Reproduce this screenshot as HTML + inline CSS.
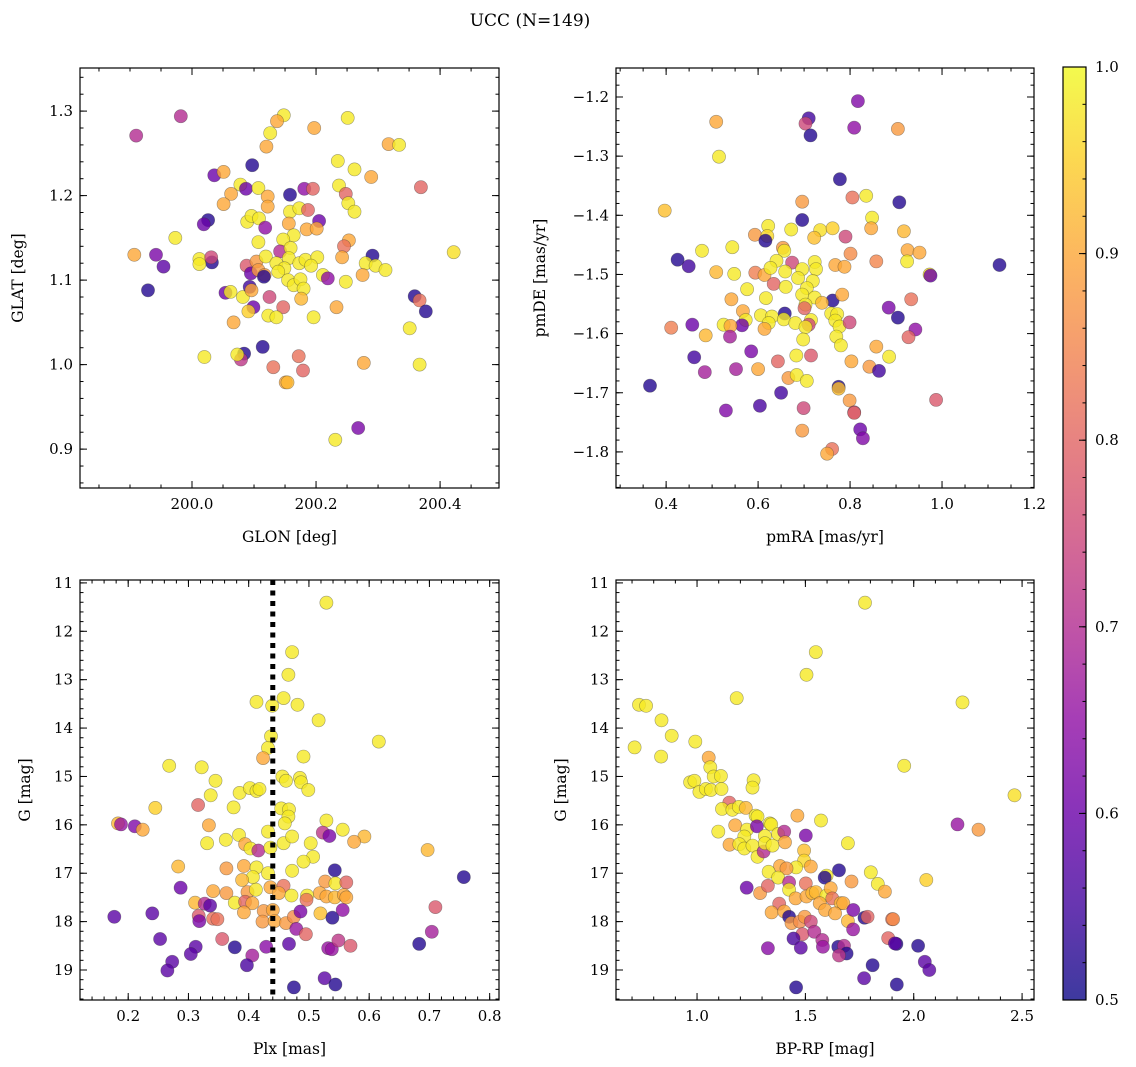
<!DOCTYPE html>
<html><head><meta charset="utf-8">
<style>
html,body{margin:0;padding:0;background:#fff;}
svg{display:block;font-family:"DejaVu Serif","Liberation Serif",serif;}
</style></head>
<body>
<svg id="fig" width="1136" height="1067" viewBox="0 0 1136 1067" xmlns="http://www.w3.org/2000/svg">
<text x="530" y="26" font-size="17" text-anchor="middle">UCC (N=149)</text>
</svg>
<script>
// ---------- Panel 1: GLON vs GLAT ----------
const p1Glon=[199.910,199.982,200.148,200.137,200.126,200.120,200.197,200.251,200.317,200.334,200.235,200.262,200.289,200.369,200.097,200.036,200.051,200.078,200.087,200.107,200.063,200.051,200.122,200.122,200.158,200.181,200.195,200.237,200.248,200.252,200.262,200.026,200.019,200.089,200.096,200.108,200.118,200.158,200.173,200.187,200.205,200.156,200.185,200.201,199.973,200.107,200.164,200.147,200.253,200.245,199.907,199.942,199.954,199.929,200.012,200.032,200.031,200.012,200.088,200.104,200.119,200.142,200.159,200.136,200.156,200.173,200.183,200.202,200.192,200.149,200.139,200.095,200.107,200.117,200.116,200.155,200.164,200.175,200.180,200.176,200.242,200.291,200.280,200.296,200.312,200.275,200.422,200.211,200.219,200.248,200.054,200.062,200.082,200.093,200.096,200.125,200.147,200.099,200.091,200.067,200.123,200.136,200.196,200.233,200.359,200.367,200.377,200.351,200.114,200.020,200.084,200.079,200.073,200.172,200.131,200.179,200.151,200.154,200.277,200.367,200.268,200.231];
const p1Glat=[1.271,1.294,1.295,1.288,1.274,1.258,1.280,1.292,1.261,1.260,1.241,1.231,1.222,1.210,1.236,1.224,1.228,1.213,1.208,1.209,1.202,1.190,1.199,1.187,1.201,1.208,1.208,1.212,1.202,1.191,1.181,1.171,1.166,1.169,1.176,1.173,1.162,1.181,1.185,1.183,1.170,1.167,1.160,1.161,1.150,1.145,1.153,1.148,1.147,1.140,1.130,1.130,1.116,1.088,1.125,1.121,1.127,1.119,1.117,1.122,1.128,1.134,1.138,1.120,1.126,1.120,1.124,1.127,1.117,1.114,1.110,1.108,1.112,1.106,1.104,1.100,1.094,1.101,1.090,1.078,1.127,1.129,1.120,1.117,1.112,1.106,1.133,1.106,1.102,1.098,1.085,1.086,1.080,1.092,1.088,1.080,1.068,1.068,1.063,1.050,1.058,1.056,1.056,1.068,1.081,1.076,1.063,1.043,1.021,1.009,1.013,1.006,1.012,1.010,0.997,0.993,0.979,0.979,1.002,1.000,0.925,0.911];
const p1Prob=[0.7,0.7,0.98,0.9,0.98,0.9,0.9,0.98,0.9,0.98,0.98,0.98,0.9,0.8,0.52,0.6,0.9,0.98,0.6,0.98,0.9,0.9,0.9,0.9,0.52,0.65,0.8,0.98,0.8,0.98,0.98,0.52,0.6,0.98,0.98,0.98,0.65,0.98,0.98,0.8,0.6,0.9,0.9,0.9,0.98,0.98,0.98,0.98,0.9,0.82,0.9,0.62,0.58,0.52,0.98,0.52,0.75,0.98,0.78,0.88,0.98,0.7,0.98,0.98,0.98,0.98,0.98,0.98,0.98,0.98,0.98,0.6,0.88,0.88,0.52,0.98,0.98,0.98,0.98,0.92,0.9,0.52,0.98,0.98,0.98,0.9,0.97,0.98,0.65,0.98,0.6,0.98,0.98,0.55,0.9,0.75,0.8,0.6,0.95,0.9,0.98,0.98,0.98,0.9,0.52,0.82,0.52,0.98,0.52,0.98,0.52,0.72,0.98,0.82,0.82,0.8,0.9,0.92,0.9,0.98,0.62,0.98];

// ---------- Panel 2: pmRA vs pmDE ----------
const p2Pmra=[0.817,0.710,0.703,0.714,0.809,0.509,0.904,0.515,0.778,0.397,0.696,0.805,0.835,0.907,0.696,0.848,0.846,0.917,0.622,0.593,0.620,0.616,0.672,0.735,0.722,0.762,0.790,0.478,0.544,0.654,0.657,0.801,0.925,0.951,0.924,0.425,0.449,0.857,1.125,0.509,0.548,0.594,0.614,0.640,0.627,0.674,0.659,0.696,0.723,0.726,0.768,0.788,0.973,0.975,0.634,0.660,0.687,0.719,0.706,0.576,0.542,0.617,0.696,0.723,0.762,0.783,0.739,0.703,0.701,0.933,0.884,0.904,0.942,0.927,0.567,0.573,0.565,0.606,0.630,0.623,0.614,0.658,0.656,0.681,0.715,0.710,0.703,0.759,0.772,0.768,0.777,0.799,0.525,0.540,0.539,0.457,0.411,0.486,0.698,0.770,0.780,0.857,0.885,0.585,0.683,0.715,0.643,0.803,0.842,0.863,0.461,0.484,0.552,0.600,0.666,0.684,0.706,0.775,0.775,0.365,0.650,0.799,0.987,0.530,0.604,0.699,0.809,0.809,0.696,0.822,0.828,0.761,0.750];
const p2Pmde=[-1.207,-1.236,-1.245,-1.265,-1.252,-1.242,-1.254,-1.301,-1.339,-1.392,-1.377,-1.370,-1.367,-1.378,-1.408,-1.404,-1.422,-1.427,-1.418,-1.433,-1.435,-1.443,-1.424,-1.425,-1.438,-1.422,-1.436,-1.460,-1.454,-1.455,-1.460,-1.465,-1.459,-1.463,-1.478,-1.475,-1.486,-1.478,-1.484,-1.496,-1.499,-1.497,-1.501,-1.477,-1.489,-1.480,-1.495,-1.491,-1.479,-1.491,-1.484,-1.487,-1.500,-1.502,-1.516,-1.521,-1.506,-1.511,-1.523,-1.525,-1.542,-1.540,-1.534,-1.539,-1.544,-1.534,-1.548,-1.551,-1.557,-1.542,-1.556,-1.573,-1.593,-1.606,-1.562,-1.577,-1.586,-1.569,-1.571,-1.582,-1.592,-1.566,-1.576,-1.582,-1.577,-1.585,-1.589,-1.566,-1.567,-1.578,-1.588,-1.581,-1.585,-1.587,-1.605,-1.585,-1.590,-1.603,-1.610,-1.605,-1.620,-1.622,-1.639,-1.630,-1.637,-1.637,-1.647,-1.647,-1.656,-1.663,-1.640,-1.665,-1.660,-1.660,-1.675,-1.670,-1.680,-1.690,-1.693,-1.688,-1.700,-1.713,-1.712,-1.730,-1.722,-1.726,-1.733,-1.734,-1.764,-1.762,-1.777,-1.795,-1.803];
const p2Prob=[0.63,0.55,0.75,0.52,0.65,0.9,0.88,0.98,0.52,0.93,0.88,0.82,0.98,0.52,0.52,0.98,0.9,0.92,0.98,0.88,0.96,0.52,0.98,0.97,0.93,0.95,0.75,0.98,0.98,0.88,0.98,0.86,0.9,0.9,0.98,0.52,0.55,0.85,0.52,0.92,0.98,0.84,0.9,0.98,0.98,0.75,0.98,0.98,0.98,0.98,0.9,0.9,0.97,0.6,0.8,0.98,0.98,0.98,0.98,0.98,0.9,0.98,0.98,0.98,0.52,0.9,0.92,0.98,0.8,0.82,0.62,0.52,0.65,0.8,0.9,0.98,0.6,0.98,0.98,0.98,0.9,0.52,0.98,0.98,0.98,0.75,0.98,0.98,0.98,0.98,0.98,0.75,0.98,0.9,0.68,0.6,0.84,0.92,0.98,0.98,0.98,0.9,0.98,0.62,0.98,0.78,0.8,0.9,0.88,0.55,0.55,0.68,0.68,0.9,0.88,0.98,0.98,0.52,0.93,0.52,0.55,0.88,0.78,0.63,0.56,0.75,0.72,0.8,0.88,0.6,0.63,0.82];

// ---------- Panel 3: Plx vs G ----------
const p3Plx=[0.529,0.472,0.466,0.458,0.413,0.439,0.481,0.516,0.616,0.437,0.432,0.424,0.491,0.268,0.322,0.345,0.337,0.316,0.245,0.375,0.385,0.402,0.413,0.418,0.456,0.462,0.485,0.487,0.499,0.454,0.467,0.466,0.460,0.183,0.188,0.211,0.224,0.334,0.529,0.556,0.523,0.534,0.592,0.575,0.697,0.331,0.362,0.384,0.394,0.403,0.416,0.432,0.436,0.458,0.472,0.503,0.507,0.491,0.472,0.283,0.363,0.392,0.413,0.432,0.407,0.389,0.543,0.757,0.287,0.341,0.363,0.398,0.412,0.436,0.458,0.450,0.471,0.527,0.544,0.562,0.518,0.529,0.543,0.497,0.496,0.558,0.562,0.311,0.327,0.336,0.377,0.394,0.406,0.392,0.425,0.440,0.240,0.177,0.317,0.318,0.341,0.348,0.423,0.443,0.462,0.475,0.486,0.519,0.539,0.556,0.710,0.479,0.495,0.704,0.253,0.356,0.312,0.304,0.377,0.406,0.397,0.429,0.467,0.532,0.538,0.549,0.569,0.683,0.273,0.265,0.526,0.544,0.475];
const p3G=[11.41,12.43,12.90,13.38,13.46,13.54,13.52,13.84,14.28,14.17,14.41,14.62,14.59,14.78,14.81,15.09,15.39,15.59,15.65,15.64,15.34,15.24,15.30,15.26,15.00,15.09,15.03,15.12,15.28,15.66,15.68,15.83,15.97,15.97,15.99,16.03,16.10,16.01,15.91,16.10,16.16,16.23,16.24,16.35,16.52,16.38,16.31,16.21,16.40,16.49,16.53,16.14,16.47,16.38,16.24,16.38,16.66,16.76,16.95,16.86,16.90,16.85,16.88,17.00,17.08,17.14,16.94,17.08,17.30,17.37,17.41,17.39,17.34,17.29,17.26,17.41,17.46,17.17,17.21,17.19,17.41,17.48,17.50,17.46,17.55,17.45,17.50,17.61,17.63,17.67,17.61,17.59,17.62,17.81,17.78,17.76,17.83,17.90,17.88,17.99,17.94,17.95,18.00,17.99,18.03,17.90,17.79,17.83,17.92,17.76,17.70,18.15,18.26,18.21,18.36,18.36,18.52,18.67,18.53,18.70,18.90,18.52,18.46,18.55,18.57,18.39,18.50,18.46,18.83,19.01,19.17,19.30,19.36];
const p3Prob=[0.98,0.98,0.98,0.98,0.98,0.98,0.98,0.98,0.98,0.98,0.98,0.9,0.98,0.98,0.98,0.98,0.98,0.8,0.95,0.98,0.98,0.98,0.98,0.98,0.98,0.98,0.98,0.98,0.98,0.98,0.98,0.98,0.98,0.92,0.66,0.63,0.9,0.9,0.98,0.98,0.72,0.62,0.92,0.9,0.92,0.98,0.98,0.98,0.9,0.98,0.7,0.98,0.98,0.98,0.98,0.98,0.98,0.98,0.98,0.92,0.88,0.9,0.98,0.98,0.98,0.92,0.52,0.52,0.6,0.9,0.88,0.88,0.98,0.9,0.82,0.9,0.98,0.88,0.98,0.8,0.9,0.9,0.92,0.98,0.82,0.9,0.9,0.92,0.7,0.58,0.98,0.8,0.9,0.9,0.88,0.9,0.58,0.58,0.78,0.62,0.82,0.82,0.88,0.9,0.88,0.86,0.62,0.93,0.52,0.65,0.78,0.66,0.8,0.68,0.58,0.78,0.58,0.58,0.52,0.68,0.56,0.64,0.58,0.66,0.66,0.72,0.78,0.52,0.58,0.58,0.58,0.52,0.52];

// ---------- Panel 4: BP-RP vs G ----------
const p4Bprp=[1.775,1.548,1.505,1.183,0.732,0.765,2.225,0.836,0.883,0.992,0.712,0.834,1.956,2.465,1.054,1.061,1.077,1.110,0.968,0.988,1.011,1.041,1.064,1.113,1.261,1.256,1.149,1.115,1.163,1.193,1.225,1.270,1.279,1.463,1.572,1.098,1.176,1.230,1.276,1.336,1.342,1.150,1.218,1.195,1.218,1.256,1.279,1.307,1.313,1.313,1.348,1.374,1.402,1.406,1.502,1.696,1.494,1.494,1.525,1.457,1.383,1.413,1.330,1.374,2.202,2.299,1.598,1.589,1.655,1.802,1.834,1.867,2.058,1.713,1.229,1.291,1.327,1.425,1.502,1.425,1.455,1.505,1.532,1.548,1.597,1.617,1.624,1.566,1.591,1.663,1.675,1.637,1.379,1.344,1.402,1.425,1.436,1.474,1.497,1.525,1.696,1.721,1.773,1.787,1.900,1.905,1.720,1.486,1.541,1.578,1.581,1.445,1.479,1.327,1.652,1.678,1.690,1.655,1.882,1.920,1.913,2.020,2.051,2.072,1.810,1.771,1.922,1.457];
const p4G=[11.41,12.43,12.90,13.38,13.52,13.54,13.47,13.84,14.16,14.28,14.40,14.59,14.78,15.39,14.61,14.81,15.00,14.99,15.12,15.09,15.32,15.26,15.28,15.26,15.08,15.23,15.54,15.67,15.69,15.63,15.65,15.81,15.83,15.81,15.91,16.14,16.01,16.10,16.03,15.97,15.99,16.41,16.24,16.40,16.49,16.43,16.66,16.55,16.23,16.38,16.43,16.19,16.14,16.36,16.22,16.38,16.53,16.74,16.86,16.88,16.85,16.90,16.97,17.09,15.99,16.10,17.05,17.09,16.94,16.98,17.22,17.38,17.14,17.17,17.30,17.41,17.26,17.19,17.21,17.34,17.52,17.48,17.41,17.39,17.46,17.31,17.52,17.62,17.76,17.62,17.62,17.83,17.63,17.81,17.79,17.90,18.03,18.00,17.90,18.00,17.99,17.76,17.92,17.90,17.95,17.95,18.16,18.26,18.21,18.38,18.52,18.35,18.54,18.55,18.52,18.50,18.66,18.70,18.34,18.46,18.45,18.50,18.83,19.00,18.90,19.17,19.30,19.36];
const p4Prob=[0.98,0.98,0.98,0.98,0.98,0.98,0.98,0.98,0.98,0.98,0.98,0.98,0.98,0.97,0.9,0.98,0.98,0.98,0.98,0.98,0.98,0.98,0.98,0.98,0.98,0.98,0.8,0.98,0.98,0.98,0.92,0.98,0.98,0.9,0.98,0.98,0.9,0.98,0.62,0.98,0.98,0.9,0.98,0.98,0.98,0.98,0.98,0.7,0.98,0.98,0.98,0.98,0.7,0.9,0.62,0.98,0.93,0.96,0.9,0.98,0.9,0.88,0.98,0.98,0.66,0.88,0.98,0.52,0.52,0.98,0.98,0.9,0.95,0.88,0.6,0.88,0.8,0.7,0.82,0.98,0.9,0.9,0.92,0.92,0.98,0.9,0.82,0.9,0.9,0.92,0.9,0.9,0.8,0.9,0.9,0.52,0.88,0.86,0.88,0.75,0.92,0.62,0.52,0.8,0.82,0.86,0.66,0.78,0.7,0.7,0.66,0.56,0.58,0.64,0.52,0.7,0.52,0.72,0.8,0.52,0.58,0.52,0.58,0.58,0.52,0.58,0.52,0.52];

// Tick labels
const p1XTicks=[200.0,200.2,200.4], p1YTicks=[0.9,1.0,1.1,1.2,1.3];
const p2XTicks=[0.4,0.6,0.8,1.0,1.2], p2YTicks=[-1.8,-1.7,-1.6,-1.5,-1.4,-1.3,-1.2];
const p3XTicks=[0.2,0.3,0.4,0.5,0.6,0.7,0.8], p3YTicks=[11,12,13,14,15,16,17,18,19];
const p4XTicks=[1.0,1.5,2.0,2.5], p4YTicks=[11,12,13,14,15,16,17,18,19];
const cbTicks=[0.5,0.6,0.7,0.8,0.9,1.0];
const plxLine=[0.44];

const NS='http://www.w3.org/2000/svg';
const svg=document.getElementById('fig');
function mk(tag,attrs,parent){const e=document.createElementNS(NS,tag);for(const k in attrs)e.setAttribute(k,attrs[k]);(parent||svg).appendChild(e);return e;}

const stops=['#0d0887','#41049d','#6a00a8','#8f0da4','#b12a90','#cc4778','#e16462','#f2844b','#fca636','#fcce25','#f0f921'];
function hex(h){return [parseInt(h.substr(1,2),16),parseInt(h.substr(3,2),16),parseInt(h.substr(5,2),16)];}
function plasma(t){if(!isFinite(t))t=0.8;t=Math.max(0,Math.min(1,t));const f=t*10,i=Math.min(9,Math.floor(f)),r=f-i;const a=hex(stops[i]),b=hex(stops[i+1]);return 'rgb('+a.map((v,k)=>Math.round(v+(b[k]-v)*r)).join(',')+')';}
function colorOf(p){if(typeof p!=='number'||!isFinite(p))p=0.9;return plasma((p-0.5)/0.5);}
function fmt(v,d){const s=v.toFixed(d);return s.replace('-','\u2212');}

function panel(o){
  const g=mk('g',{});
  
  
  const sx=v=>o.x0+(v-o.xmin)/(o.xmax-o.xmin)*(o.x1-o.x0);
  const sy=v=>o.yinv? o.y0+(v-o.ymin)/(o.ymax-o.ymin)*(o.y1-o.y0) : o.y1-(v-o.ymin)/(o.ymax-o.ymin)*(o.y1-o.y0);
  const pg=mk('g',{},g);
  
  
  const n=Math.min(o.xs.length,o.ys.length);
  for(let i=0;i<n;i++){
    const c=mk('circle',{cx:sx(o.xs[i]).toFixed(1),cy:sy(o.ys[i]).toFixed(1),r:6.6,fill:colorOf(o.ps[i]),'fill-opacity':0.8,stroke:'#333','stroke-opacity':0.45,'stroke-width':0.6},pg);
    
    
  }
  if(o.vline){for(const v of o.vline){const l=mk('line',{x1:sx(v),x2:sx(v),y1:o.y0,y2:o.y1,stroke:'#000','stroke-width':5,'stroke-dasharray':'5 5.5'},g);
    
    }}
  const f=mk('rect',{x:o.x0,y:o.y0,width:o.x1-o.x0,height:o.y1-o.y0,fill:'none',stroke:'#000','stroke-width':1.2},g);
  
  
  const tg=mk('g',{stroke:'#000','stroke-width':1},g);
  
  
  const eps=1e-9;
  for(let v=Math.ceil(o.xmin/o.xminor-eps)*o.xminor;v<=o.xmax+eps;v+=o.xminor){const X=sx(v);mk('line',{x1:X,x2:X,y1:o.y1,y2:o.y1-3.5},tg);mk('line',{x1:X,x2:X,y1:o.y0,y2:o.y0+3.5},tg);}
  for(let v=Math.ceil(o.ymin/o.yminor-eps)*o.yminor;v<=o.ymax+eps;v+=o.yminor){const Y=sy(v);mk('line',{x1:o.x0,x2:o.x0+3.5,y1:Y,y2:Y},tg);mk('line',{x1:o.x1,x2:o.x1-3.5,y1:Y,y2:Y},tg);}
  for(const v of o.xt){const X=sx(v);mk('line',{x1:X,x2:X,y1:o.y1,y2:o.y1-7},tg);mk('line',{x1:X,x2:X,y1:o.y0,y2:o.y0+7},tg);
    const t=mk('text',{x:X,y:o.y1+21,'font-size':15,'text-anchor':'middle'},g);t.textContent=fmt(v,o.xd);
    
    }
  for(const v of o.yt){const Y=sy(v);mk('line',{x1:o.x0,x2:o.x0+7,y1:Y,y2:Y},tg);mk('line',{x1:o.x1,x2:o.x1-7,y1:Y,y2:Y},tg);
    const t=mk('text',{x:o.x0-7,y:Y+5,'font-size':15,'text-anchor':'end'},g);t.textContent=fmt(v,o.yd);
    
    }
  const xl=mk('text',{x:(o.x0+o.x1)/2,y:o.y1+54,'font-size':15.5,'text-anchor':'middle'},g);xl.textContent=o.xlabel;
  
  
  const yx=o.ylx, yy=(o.y0+o.y1)/2;
  const yl=mk('text',{x:yx,y:yy,'font-size':15.5,'text-anchor':'middle',transform:'rotate(-90 '+yx+' '+yy+')'},g);yl.textContent=o.ylabel;
  
  
}

panel({name:'glon-glat-panel',x0:80,x1:499,y0:68,y1:488,xmin:199.8194,xmax:200.495,ymin:0.854,ymax:1.351,xs:p1Glon,ys:p1Glat,ps:p1Prob,xt:p1XTicks,yt:p1YTicks,xd:1,yd:1,xminor:0.05,yminor:0.02,xlabel:'GLON [deg]',ylabel:'GLAT [deg]',ylx:23});
panel({name:'pm-panel',x0:616,x1:1034,y0:68,y1:488,xmin:0.291,xmax:1.2,ymin:-1.861,ymax:-1.151,xs:p2Pmra,ys:p2Pmde,ps:p2Prob,xt:p2XTicks,yt:p2YTicks,xd:1,yd:1,xminor:0.05,yminor:0.02,xlabel:'pmRA [mas/yr]',ylabel:'pmDE [mas/yr]',ylx:545});
panel({name:'plx-g-panel',x0:80,x1:499,y0:580,y1:1000,xmin:0.12,xmax:0.8155,ymin:10.94,ymax:19.62,yinv:true,xs:p3Plx,ys:p3G,ps:p3Prob,xt:p3XTicks,yt:p3YTicks,xd:1,yd:0,xminor:0.02,yminor:0.2,xlabel:'Plx [mas]',ylabel:'G [mag]',ylx:30,vline:plxLine});
panel({name:'cmd-panel',x0:616,x1:1034,y0:580,y1:1000,xmin:0.626,xmax:2.555,ymin:10.94,ymax:19.62,yinv:true,xs:p4Bprp,ys:p4G,ps:p4Prob,xt:p4XTicks,yt:p4YTicks,xd:1,yd:0,xminor:0.1,yminor:0.2,xlabel:'BP-RP [mag]',ylabel:'G [mag]',ylx:566});

// colorbar
const cb=mk('g',{});


const defs=mk('defs',{},cb);
const lg=mk('linearGradient',{id:'pl',x1:0,y1:1,x2:0,y2:0},defs);
for(let i=0;i<=20;i++){mk('stop',{offset:i/20,'stop-color':plasma(i/20),'stop-opacity':0.8},lg);}
const cx0=1063,cx1=1086,cy0=67,cy1=1000;
mk('rect',{x:cx0,y:cy0,width:cx1-cx0,height:cy1-cy0,fill:'url(#pl)',stroke:'#000','stroke-width':1.2},cb);
const cby=v=>cy1-(v-0.5)/0.5*(cy1-cy0);
for(let v=0.5;v<=1.0001;v+=0.02){mk('line',{x1:cx1,x2:cx1-3.5,y1:cby(v),y2:cby(v),stroke:'#000'},cb);}
for(const v of cbTicks){mk('line',{x1:cx1,x2:cx1-7,y1:cby(v),y2:cby(v),stroke:'#000'},cb);
  const t=mk('text',{x:cx1+9,y:cby(v)+5,'font-size':15},cb);t.textContent=v.toFixed(1);
  
  }
</script>
</body></html>
